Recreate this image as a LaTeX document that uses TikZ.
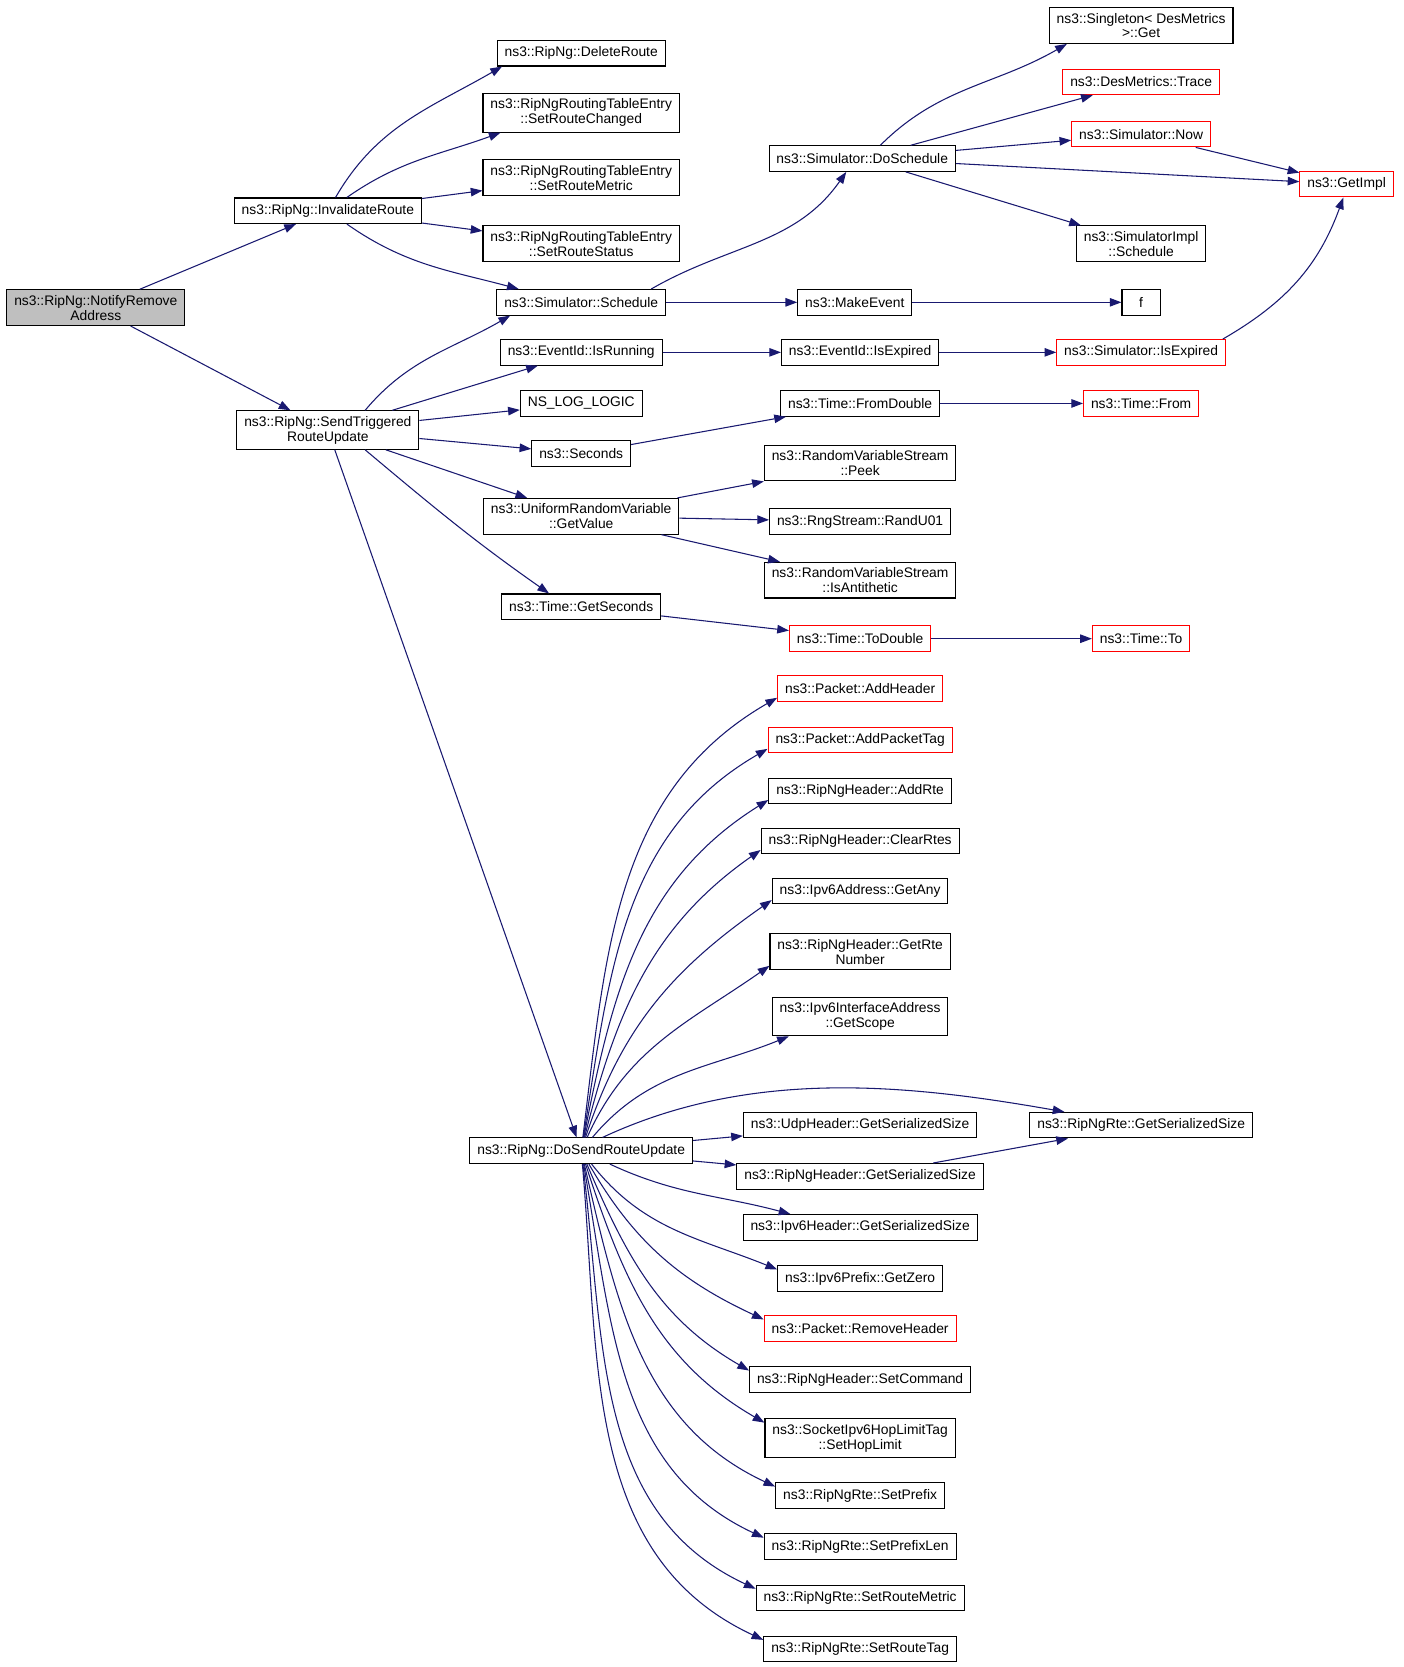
\documentclass[tikz,border=0pt]{standalone}
\usepackage{fontspec}
\setmainfont{Liberation Sans}
\usetikzlibrary{positioning, arrows.meta}

\definecolor{edgeblue}{HTML}{191970}
\definecolor{rootgray}{HTML}{BFBFBF}

\begin{document}
\begin{tikzpicture}[
    x=1pt, y=-1pt,
    fn/.style={rectangle, draw=black, line width=1pt, minimum height=24pt, inner xsep=7pt, inner ysep=5pt, align=center, font=\fontsize{13}{14}\selectfont},
    root/.style={fn, fill=rootgray},
    call/.style={draw=edgeblue, line width=1pt, -{Triangle[length=11pt, width=8pt]}}
]
\useasboundingbox (0,0) rectangle (1318,1566);

% Caller and first level
\node[root] (notify) at (90,289) {ns3::RipNg::NotifyRemove\\Address};
\node[fn] (inv) at (308,198) {ns3::RipNg::InvalidateRoute};
\node[fn] (stru) at (308,404) {ns3::RipNg::SendTriggered\\RouteUpdate};

% Second level
\foreach \nm/\yy/\txt in {
    delr/50/ns3::RipNg::DeleteRoute,
    chg/106/{ns3::RipNgRoutingTableEntry\\::SetRouteChanged},
    met/167/{ns3::RipNgRoutingTableEntry\\::SetRouteMetric},
    sts/229/{ns3::RipNgRoutingTableEntry\\::SetRouteStatus},
    sched/284/ns3::Simulator::Schedule,
    isrun/331/ns3::EventId::IsRunning,
    nslog/379/NS\_LOG\_LOGIC,
    secs/426/ns3::Seconds,
    getval/485/{ns3::UniformRandomVariable\\::GetValue},
    getsec/570/ns3::Time::GetSeconds,
    dsru/1081/ns3::RipNg::DoSendRouteUpdate} {
    \node[fn] (\nm) at (546,\yy) {\txt};
}

% Third level
\node[fn] (dosch) at (810,149) {ns3::Simulator::DoSchedule};
\node[fn] (mkev) at (803,284) {ns3::MakeEvent};
\foreach \nm/\yy/\col/\txt in {
    eidexp/331/black/ns3::EventId::IsExpired,
    fromd/379/black/ns3::Time::FromDouble,
    peek/435/black/{ns3::RandomVariableStream\\::Peek},
    randu/490/black/ns3::RngStream::RandU01,
    anti/545/black/{ns3::RandomVariableStream\\::IsAntithetic},
    tod/600/red/ns3::Time::ToDouble,
    udp/1057/black/ns3::UdpHeader::GetSerializedSize,
    rhgss/1105/black/ns3::RipNgHeader::GetSerializedSize} {
    \node[fn, draw=\col] (\nm) at (808,\yy) {\txt};
}

% Fourth level
\foreach \nm/\yy/\col/\txt in {
    sing/24/black/{ns3::Singleton< DesMetrics\\>::Get},
    trace/77/red/ns3::DesMetrics::Trace,
    now/126/red/ns3::Simulator::Now,
    simpl/229/black/{ns3::SimulatorImpl\\::Schedule},
    sexp/331/red/ns3::Simulator::IsExpired,
    tfrom/379/red/ns3::Time::From,
    tto/600/red/ns3::Time::To,
    rtegss/1057/black/ns3::RipNgRte::GetSerializedSize} {
    \node[fn, draw=\col] (\nm) at (1072,\yy) {\txt};
}
\node[fn, minimum width=36pt] (fcall) at (1072,284) {f};
\node[fn, draw=red] (gimpl) at (1265,173) {ns3::GetImpl};

% Edges from the caller
\draw[call] (notify) -- (inv);
\draw[call] (notify) -- (stru);

% InvalidateRoute
\draw[call] (inv) to[out=60, in=210] ([xshift=5pt]delr.south west);
\draw[call] (inv) to[out=35, in=200] ([xshift=17pt]chg.south west);
\draw[call] (inv) -- (met);
\draw[call] (inv) -- (sts);
\draw[call] (inv) to[out=-35, in=165] ([xshift=21pt]sched.north west);

% SendTriggeredRouteUpdate
\draw[call] ([xshift=35pt]stru.north) to[out=50, in=210] ([xshift=13pt]sched.south west);
\draw[call] (stru) -- (isrun);
\draw[call] (stru) -- (nslog);
\draw[call] (stru) -- (secs);
\draw[call] (stru) -- (getval);
\draw[call] ([xshift=35pt]stru.south) to[out=-40, in=145] ([xshift=45pt]getsec.north west);
\draw[call] (stru) -- (dsru);

% Scheduler
\draw[call] ([xshift=-14pt]sched.north east) to[out=30, in=235] ([xshift=-15pt]dosch.south);
\draw[call] (sched) -- (mkev);
\draw[call] (mkev) -- (fcall);
\draw[call] ([xshift=17pt]dosch.north) to[out=45, in=210] ([xshift=17pt]sing.south west);
\draw[call] (dosch) -- (trace);
\draw[call] (dosch) -- (now);
\draw[call] (dosch) -- (gimpl);
\draw[call] (dosch) -- (simpl);
\draw[call] (now) -- (gimpl);

% Events and time
\draw[call] (isrun) -- (eidexp);
\draw[call] (eidexp) -- (sexp);
\draw[call] ([xshift=-3pt]sexp.north east) to[out=30, in=-110] ([xshift=-3pt]gimpl.south);
\draw[call] (secs) -- (fromd);
\draw[call] (fromd) -- (tfrom);
\draw[call] (getval) -- (peek);
\draw[call] (getval) -- (randu);
\draw[call] (getval) -- (anti);
\draw[call] (getsec) -- (tod);
\draw[call] (tod) -- (tto);

% DoSendRouteUpdate, callees above it
\foreach \nm/\yy/\col/\txt/\ao/\ai in {
    addh/647/red/ns3::Packet::AddHeader/83/210,
    addpt/695/red/ns3::Packet::AddPacketTag/81/210,
    addrte/743/black/ns3::RipNgHeader::AddRte/79/212,
    clr/790/black/ns3::RipNgHeader::ClearRtes/76/215,
    any/837/black/ns3::Ipv6Address::GetAny/72/215,
    rten/894/black/{ns3::RipNgHeader::GetRte\\Number}/66/215} {
    \node[fn, draw=\col] (\nm) at (808,\yy) {\txt};
    \draw[call] (dsru) to[out=\ao, in=\ai] ([yshift=4pt]\nm.south west);
}
\node[fn] (scope) at (808,955) {ns3::Ipv6InterfaceAddress\\::GetScope};
\draw[call] (dsru) to[out=50, in=202] ([xshift=16pt]scope.south west);

% DoSendRouteUpdate, callees beside and below it
\draw[call] (dsru) -- (udp);
\draw[call] (dsru) -- (rhgss);
\draw[call] (rhgss) -- (rtegss);
\draw[call] ([xshift=20pt]dsru.north) to[out=25, in=170, looseness=0.9] ([xshift=33pt]rtegss.north west);
\node[fn] (v6gss) at (808,1153) {ns3::Ipv6Header::GetSerializedSize};
\draw[call] (dsru) to[out=-25, in=165] ([xshift=45pt]v6gss.north west);
\foreach \nm/\yy/\col/\txt/\ao/\ai in {
    zero/1201/black/ns3::Ipv6Prefix::GetZero/-52/158,
    rmh/1248/red/ns3::Packet::RemoveHeader/-60/155,
    cmd/1296/black/ns3::RipNgHeader::SetCommand/-67/150,
    hop/1351/black/{ns3::SocketIpv6HopLimitTag\\::SetHopLimit}/-72/150,
    pfx/1405/black/ns3::RipNgRte::SetPrefix/-77/155,
    pfxl/1453/black/ns3::RipNgRte::SetPrefixLen/-80/155,
    rmet/1501/black/ns3::RipNgRte::SetRouteMetric/-83/155,
    rtag/1549/black/ns3::RipNgRte::SetRouteTag/-85/155} {
    \node[fn, draw=\col] (\nm) at (808,\yy) {\txt};
    \draw[call] (dsru) to[out=\ao, in=\ai] ([yshift=-4pt]\nm.north west);
}

\end{tikzpicture}
\end{document}
